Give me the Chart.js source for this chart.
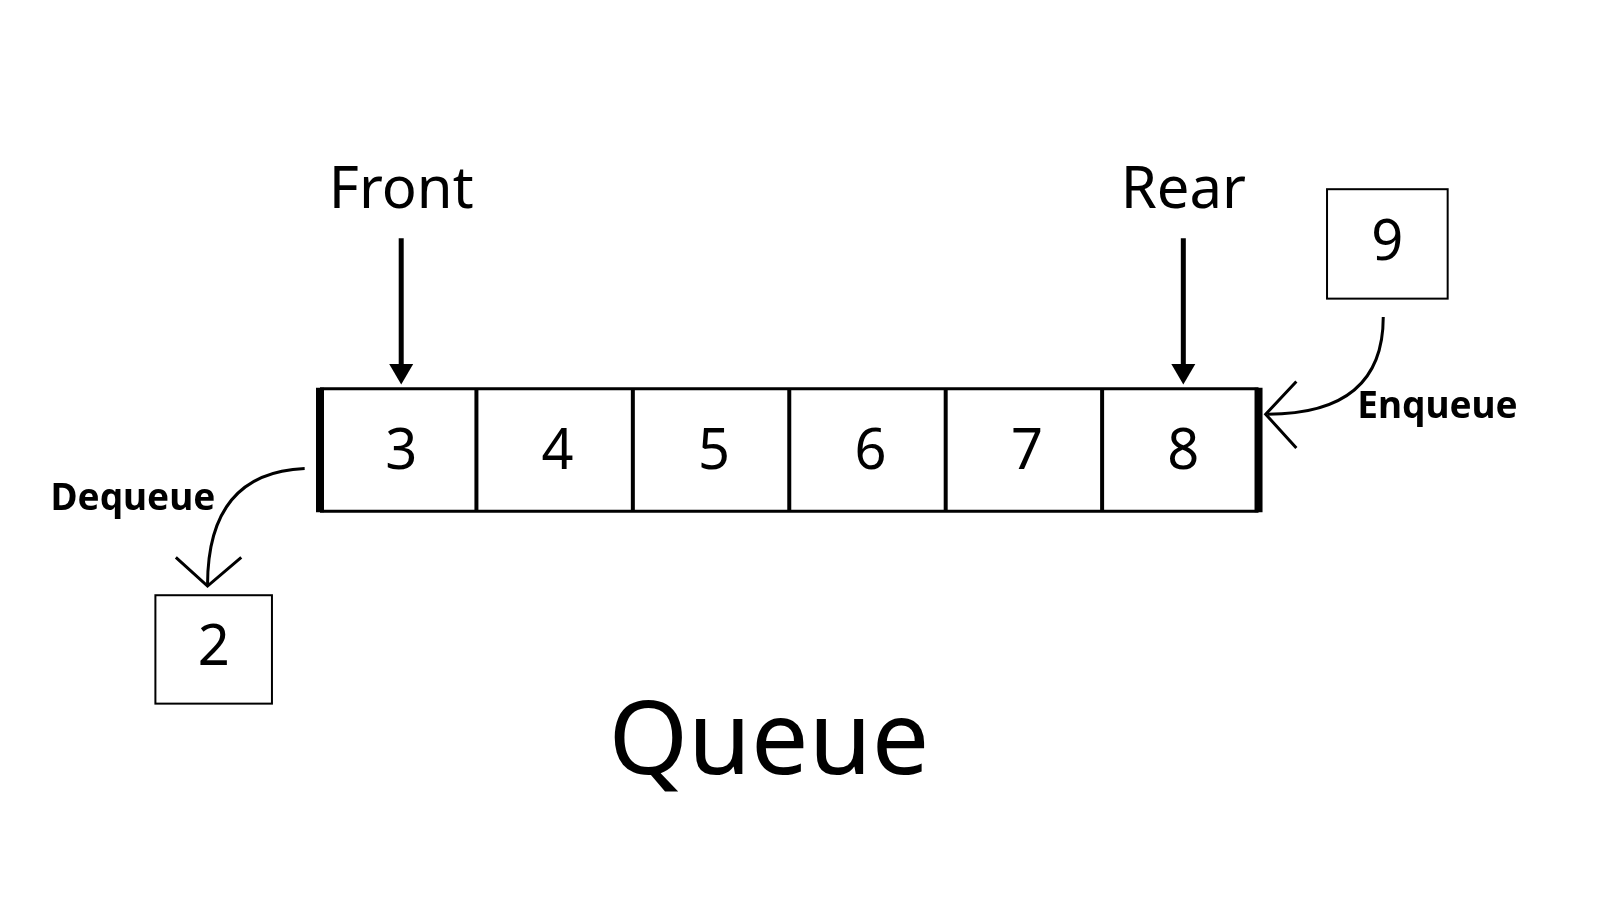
<!DOCTYPE html>
<html>
<head>
<meta charset="utf-8">
<script src="https://cdn.jsdelivr.net/npm/chart.js@4.4.0/dist/chart.umd.min.js"></script>
<style>
  html, body { margin: 0; padding: 0; background: #fff; }
  #wrap { width: 1600px; height: 900px; }
</style>
</head>
<body>
<div id="wrap"><canvas id="queueChart"></canvas></div>
<script>
// queue contents and side values
const queueValues = [3, 4, 5, 6, 7, 8];
const enqueuedValue = 9;
const dequeuedValue = 2;
const pointerLabels = ['Front', 'Rear'];
const titleText = 'Queue';

const FONT = '"Noto Sans", Lato, sans-serif';
const INK = '#000000';

// diagram units (layout measured on a 1565x880 grid)
const CELL_LEFT = 313;
const CELL_W = 153;
const CELL_TOP = 380;
const CELL_BOTTOM = 500;

const queuePlugin = {
    id: 'queueDiagram',
    afterDatasetsDraw(chart) {
        const { ctx } = chart;
        const xs = chart.scales.x;
        const ys = chart.scales.y;
        const X = (v) => xs.getPixelForValue(v);
        const Y = (v) => ys.getPixelForValue(v);

        ctx.save();
        ctx.strokeStyle = INK;
        ctx.fillStyle = INK;
        ctx.textAlign = 'center';
        ctx.textBaseline = 'middle';

        const n = queueValues.length;
        const left = X(CELL_LEFT);
        const right = X(CELL_LEFT + CELL_W * n);
        const top = Y(CELL_TOP);
        const bottom = Y(CELL_BOTTOM);

        // top and bottom rails
        ctx.lineWidth = 3;
        ctx.beginPath();
        ctx.moveTo(left, top); ctx.lineTo(right, top);
        ctx.moveTo(left, bottom); ctx.lineTo(right, bottom);
        ctx.stroke();

        // dividers
        ctx.lineWidth = 4;
        for (let i = 1; i < n; i++) {
            const x = X(CELL_LEFT + CELL_W * i);
            ctx.beginPath();
            ctx.moveTo(x, top); ctx.lineTo(x, bottom);
            ctx.stroke();
        }
        // thick ends
        ctx.lineWidth = 8;
        ctx.beginPath();
        ctx.moveTo(left, top - 1); ctx.lineTo(left, bottom + 1);
        ctx.moveTo(right, top - 1); ctx.lineTo(right, bottom + 1);
        ctx.stroke();

        // values
        ctx.font = `400 56px ${FONT}`;
        queueValues.forEach((v, i) => {
            ctx.fillText(String(v), X(CELL_LEFT + CELL_W * (i + 0.5)) + 3, Y(443));
        });

        // pointers
        const pointerCells = [0, n - 1];
        ctx.font = `400 58px ${FONT}`;
        pointerCells.forEach((cell, k) => {
            const cx = X(CELL_LEFT + CELL_W * (cell + 0.5)) + 3;
            ctx.fillText(pointerLabels[k], cx, Y(187));
            ctx.lineWidth = 5;
            ctx.beginPath();
            ctx.moveTo(cx, Y(233)); ctx.lineTo(cx, Y(360));
            ctx.stroke();
            ctx.beginPath();
            ctx.moveTo(cx - 12, Y(356));
            ctx.lineTo(cx + 12, Y(356));
            ctx.lineTo(cx, Y(376));
            ctx.closePath();
            ctx.fill();
        });

        // side boxes
        const box = (x1, y1, x2, y2, val) => {
            ctx.lineWidth = 2;
            ctx.strokeRect(X(x1), Y(y1), X(x2) - X(x1), Y(y2) - Y(y1));
            ctx.font = `400 56px ${FONT}`;
            ctx.fillText(String(val), (X(x1) + X(x2)) / 2, (Y(y1) + Y(y2)) / 2);
        };
        box(1298, 185, 1416, 292, enqueuedValue);
        box(152, 582, 266, 688, dequeuedValue);

        // enqueue curve + open arrowhead
        ctx.lineWidth = 3;
        ctx.beginPath();
        ctx.moveTo(X(1353), Y(310));
        ctx.quadraticCurveTo(X(1353), Y(405), X(1240), Y(405));
        ctx.stroke();
        ctx.beginPath();
        ctx.moveTo(X(1268), Y(373)); ctx.lineTo(X(1238), Y(405)); ctx.lineTo(X(1268), Y(438));
        ctx.stroke();

        // dequeue curve + open arrowhead
        ctx.beginPath();
        ctx.moveTo(X(298), Y(458));
        ctx.quadraticCurveTo(X(203), Y(462), X(203), Y(572));
        ctx.stroke();
        ctx.beginPath();
        ctx.moveTo(X(172), Y(545)); ctx.lineTo(X(203), Y(573)); ctx.lineTo(X(236), Y(545));
        ctx.stroke();

        // operation labels
        ctx.font = `700 37px ${FONT}`;
        ctx.fillText('Enqueue', X(1406), Y(398));
        ctx.fillText('Dequeue', X(130), Y(488));

        // title
        ctx.font = `400 102px ${FONT}`;
        ctx.fillText(titleText, X(752), Y(728));

        ctx.restore();
    }
};

window.addEventListener('DOMContentLoaded', () => {
    new Chart(document.getElementById('queueChart'), {
        type: 'scatter',
        data: { datasets: [{ data: [], pointRadius: 0 }] },
        options: {
            responsive: true,
            maintainAspectRatio: false,
            animation: false,
            layout: { padding: 0 },
            plugins: { legend: { display: false }, tooltip: { enabled: false } },
            scales: {
                x: { type: 'linear', min: 0, max: 1565, display: false },
                y: { type: 'linear', min: 0, max: 880, reverse: true, display: false }
            }
        },
        plugins: [queuePlugin]
    });
});
</script>
</body>
</html>
